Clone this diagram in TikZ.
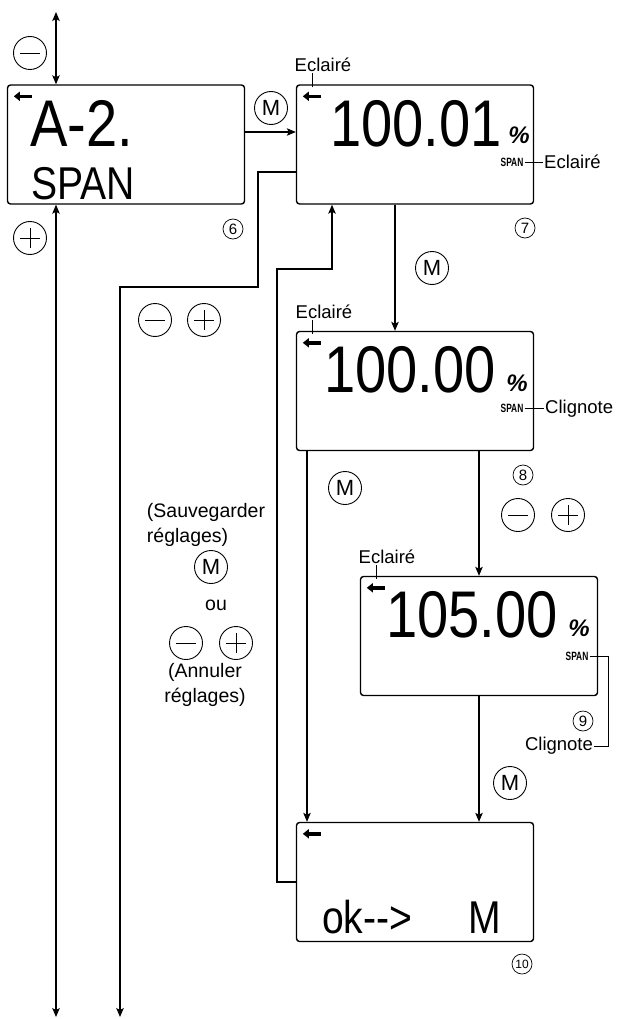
\documentclass[tikz,border=0pt]{standalone}
\usepackage{fontspec}
\setmainfont{Liberation Sans}
\newfontfamily\segfont[FakeStretch=0.85]{Liberation Sans}
\newfontfamily\spanfont[FakeStretch=0.7]{Liberation Sans}
\usetikzlibrary{arrows.meta}

\tikzset{
  lcd/.style={draw, line width=1.4pt, rounded corners=3pt, minimum width=237pt, minimum height=119pt, inner sep=0pt},
  conn/.style={line width=1.1pt},
  leader/.style={line width=0.8pt},
  arr/.style={conn, -{Stealth[length=9pt,width=7.5pt,inset=2pt]}},
  dblarr/.style={conn, {Stealth[length=9pt,width=7.5pt,inset=2pt]}-{Stealth[length=9pt,width=7.5pt,inset=2pt]}},
  btn/.style={circle, draw, line width=0.9pt, minimum size=33pt, inner sep=0pt, font=\fontsize{22}{22}\selectfont},
  btnminus/.style={btn, path picture={
      \draw[line width=0.9pt] ([xshift=-10pt]path picture bounding box.center) -- ([xshift=10pt]path picture bounding box.center);}},
  btnplus/.style={btn, path picture={
      \draw[line width=0.9pt] ([xshift=-10pt]path picture bounding box.center) -- ([xshift=10pt]path picture bounding box.center);
      \draw[line width=0.9pt] ([yshift=-10pt]path picture bounding box.center) -- ([yshift=10pt]path picture bounding box.center);}},
  circnum/.style={circle, draw, line width=0.7pt, minimum size=20pt, inner sep=0pt, font=\fontsize{15}{15}\selectfont},
  lbl/.style={inner sep=1pt, font=\fontsize{18.5}{22}\selectfont},
  sidetext/.style={inner sep=0pt, font=\fontsize{19.5}{25}\selectfont},
  seg/.style={inner sep=0pt, font=\segfont\fontsize{66}{66}\selectfont},
  segsmall/.style={inner sep=0pt, font=\segfont\fontsize{46}{46}\selectfont},
  pct/.style={inner sep=0pt, font=\fontsize{24}{24}\selectfont\bfseries\itshape},
  spanlbl/.style={inner sep=1pt, font=\spanfont\bfseries\fontsize{12}{12}\selectfont},
  lcdarrow/.style={line width=3.5pt, -{Triangle[length=6pt,width=9pt]}}
}

\newcommand\lcdicon[1]{\draw[lcdarrow] ([shift={(25pt,-12pt)}]#1.north west) -- ([shift={(7pt,-12pt)}]#1.north west);}

\begin{document}
\begin{tikzpicture}[x=1pt,y=-1pt]
  \useasboundingbox (0,0) rectangle (619,1019);

  % displays
  \node[lcd] (b6) at (126,144.5) {};
  \node[lcd] (b7) at (415,144.5) {};
  \node[lcd] (b8) at (415,391) {};
  \node[lcd] (b9) at (479,636) {};
  \node[lcd] (b10) at (415,882) {};

  \lcdicon{b6}
  \lcdicon{b7}
  \lcdicon{b8}
  \lcdicon{b9}
  \lcdicon{b10}

  \node[seg, anchor=base west] (val6) at (30,147) {A-2.};
  \node[segsmall, anchor=base west] (txt6) at (31,200) {SPAN};
  \node[circnum] (n6) at (233,229) {6};

  \node[seg, anchor=base east] (val7) at (502,147) {100.01};
  \node[pct] (pct7) at (519,135) {\%};
  \node[spanlbl] (span7) at (512,162) {SPAN};
  \node[lbl, anchor=west] (ecl7r) at (543,162) {Eclairé};
  \draw[leader] (span7.east) -- (span7.east -| ecl7r.west);
  \node[lbl] (ecl7) at (323,65) {Eclairé};
  \coordinate (tick7) at ([xshift=17pt,yshift=-3pt]b7.north west);
  \draw[leader] (tick7) -- (tick7 |- ecl7.south);
  \node[circnum] (n7) at (525,228) {7};

  \node[seg, anchor=base east] (val8) at (496,392) {100.00};
  \node[pct] (pct8) at (517,383) {\%};
  \node[spanlbl] (span8) at (512,408) {SPAN};
  \node[lbl, anchor=west] (cli8) at (544,409) {Clignote};
  \draw[leader] (span8.east) -- (span8.east -| cli8.west);
  \node[lbl] (ecl8) at (324,312) {Eclairé};
  \coordinate (tick8) at ([xshift=17pt,yshift=-3pt]b8.north west);
  \draw[leader] (tick8) -- (tick8 |- ecl8.south);
  \node[circnum] (n8) at (523,475) {8};

  \node[seg, anchor=base east] (val9) at (558,637) {105.00};
  \node[pct] (pct9) at (579,628) {\%};
  \node[spanlbl] (span9) at (577,656) {SPAN};
  \node[lbl] (cli9) at (559,746) {Clignote};
  \coordinate (bend9) at (608,656);
  \draw[leader] (span9.east) -- (bend9) |- (cli9.east);
  \node[lbl] (ecl9) at (387,557) {Eclairé};
  \coordinate (tick9) at ([xshift=17pt,yshift=-3pt]b9.north west);
  \draw[leader] (tick9) -- (tick9 |- ecl9.south);
  \node[circnum] (n9) at (583,721) {9};

  \node[segsmall, anchor=base west] (txt10) at (322,933) {ok-{}->\hspace{56pt}M};
  \node[circnum, font=\fontsize{12}{12}\selectfont] (n10) at (522,964) {10};

  % keys
  \node[btnminus] (minus6) at (30,53) {};
  \node[btnplus] (plus6) at (30,238) {};
  \node[btn] (m6) at (271,108) {M};
  \node[btnminus] (minus7) at (155,320) {};
  \node[btnplus] (plus7) at (204,320) {};
  \node[btn] (m7) at (432,268) {M};
  \node[btn] (m8) at (345,488) {M};
  \node[btnminus] (minus8) at (518,515) {};
  \node[btnplus] (plus8) at (568,515) {};
  \node[btn] (m9) at (510,783) {M};

  \node[sidetext, align=left] (save) at (206,524.5) {(Sauvegarder\\réglages)};
  \node[btn] (msave) at (211,567) {M};
  \node[sidetext] (ou) at (216,605) {ou};
  \node[btnminus] (minuscancel) at (186,643) {};
  \node[btnplus] (pluscancel) at (236,643) {};
  \node[sidetext, align=center] (cancel) at (205,685) {(Annuler\\réglages)};

  % connectors
  \coordinate (topend) at (56,12);
  \coordinate (botL) at (56,1017);
  \coordinate (botR) at (120,1017);
  \coordinate (bendA) at (258,287);
  \coordinate (bendB) at (277,269);

  \draw[dblarr] (topend) -- (topend |- b6.north);
  \draw[dblarr] (b6.south -| botL) -- (botL);
  \draw[arr] ([yshift=12.5pt]b6.east) -- ([yshift=12.5pt]b7.west);
  \draw[arr] ([yshift=-27.5pt]b7.west) -| (bendA) -| (botR);
  \draw[arr] (b10.west) -| (bendB) -| ([xshift=-83pt]b7.south);
  \draw[arr] ([xshift=-20pt]b7.south) -- ([xshift=-20pt]b8.north);
  \draw[arr] ([xshift=-108pt]b8.south) -- ([xshift=-108pt]b10.north);
  \draw[arr] (b8.south -| b9.north) -- (b9.north);
  \draw[arr] (b9.south) -- (b9.south |- b10.north);
\end{tikzpicture}
\end{document}
